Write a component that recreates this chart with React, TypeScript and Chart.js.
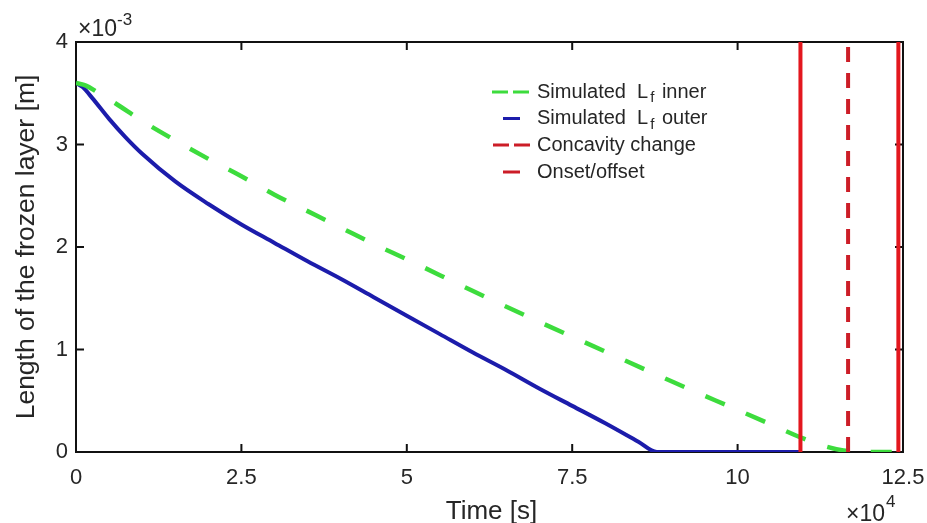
import React, { useEffect, useRef } from 'react';
import { Chart, registerables } from 'chart.js';

Chart.register(...registerables);

// Time in units of 10^4 s, length in units of 10^-3 m
const xTickValues = [0, 2.5, 5, 7.5, 10, 12.5];
const xTickLabels = ['0', '2.5', '5', '7.5', '10', '12.5'];
const yTickValues = [0, 1, 2, 3, 4];
const yTickLabels = ['0', '1', '2', '3', '4'];

const outerTime = [0, 0.1, 0.25, 0.5, 0.75, 1.0, 1.5, 2.0, 2.5, 3.0, 3.5, 4.0, 4.5, 5.0, 5.5, 6.0, 6.5, 7.0, 7.5, 8.0, 8.5, 8.78, 9.5, 10.5, 10.95];
const outerLength = [3.6, 3.56, 3.45, 3.25, 3.07, 2.91, 2.64, 2.42, 2.22, 2.04, 1.86, 1.69, 1.51, 1.33, 1.15, 0.97, 0.8, 0.62, 0.45, 0.28, 0.1, 0.0, 0.0, 0.0, 0.0];

const innerTime = [0, 0.15, 0.3, 0.6, 1.0, 1.5, 2.0, 2.5, 3.0, 3.5, 4.0, 4.5, 5.0, 6.0, 7.0, 8.0, 9.0, 10.0, 10.5, 11.0, 11.3, 11.6, 11.9, 12.45];
const innerLength = [3.6, 3.575, 3.52, 3.4, 3.23, 3.04, 2.86, 2.69, 2.51, 2.35, 2.19, 2.03, 1.88, 1.57, 1.27, 0.98, 0.69, 0.41, 0.27, 0.13, 0.06, 0.015, 0.0, 0.0];

const onsetTime = 10.95;
const concavityTime = 11.67;
const offsetTime = 12.43;
const markerSpan = [0, 4];

const legendTexts = ['Simulated  L_f inner', 'Simulated  L_f outer', 'Concavity change', 'Onset/offset'];
const xTitle = 'Time [s]';
const yTitle = 'Length of the frozen layer [m]';
const xExponent = '4';
const yExponent = '-3';

const GREEN = '#3ddc3d';
const BLUE = '#1c1cab';
const RED = '#e3171e';
const RED_DASH = '#cc1d27';
const TEXT = '#262626';
const FONT = '"Liberation Sans", Arial, Helvetica, sans-serif';

const toPoints = (xs: number[], ys: number[]) => xs.map((x, i) => ({ x, y: ys[i] }));

const boxPlugin = {
  id: 'boxPlugin',
  beforeDatasetsDraw(chart: any) {
    const { ctx, chartArea } = chart;
    const xs = chart.scales.x;
    const ys = chart.scales.y;
    ctx.save();
    ctx.strokeStyle = '#111';
    ctx.lineWidth = 2;
    ctx.strokeRect(chartArea.left, chartArea.top, chartArea.right - chartArea.left, chartArea.bottom - chartArea.top);
    const tl = 8;
    ctx.beginPath();
    xTickValues.forEach((v) => {
      const px = xs.getPixelForValue(v);
      ctx.moveTo(px, chartArea.bottom);
      ctx.lineTo(px, chartArea.bottom - tl);
      ctx.moveTo(px, chartArea.top);
      ctx.lineTo(px, chartArea.top + tl);
    });
    yTickValues.forEach((v) => {
      const py = ys.getPixelForValue(v);
      ctx.moveTo(chartArea.left, py);
      ctx.lineTo(chartArea.left + tl, py);
      ctx.moveTo(chartArea.right, py);
      ctx.lineTo(chartArea.right - tl, py);
    });
    ctx.stroke();
    ctx.restore();
  },
};

const legendStyles = [
  { color: GREEN, dash: [16, 5], x0: 492, x1: 530, width: 3 },
  { color: BLUE, dash: [], x0: 503, x1: 520, width: 3 },
  { color: RED_DASH, dash: [16, 5], x0: 493, x1: 530, width: 3 },
  { color: RED_DASH, dash: [], x0: 503, x1: 520, width: 3 },
];

const overlayPlugin = {
  id: 'overlayPlugin',
  afterDraw(chart: any) {
    const { ctx, chartArea } = chart;
    ctx.save();
    ctx.fillStyle = TEXT;

    // axis titles
    ctx.font = `26px ${FONT}`;
    ctx.textAlign = 'center';
    ctx.textBaseline = 'alphabetic';
    ctx.fillText(xTitle, (chartArea.left + chartArea.right) / 2 + 2, 519);
    ctx.save();
    ctx.translate(34, (chartArea.top + chartArea.bottom) / 2);
    ctx.rotate(-Math.PI / 2);
    ctx.font = `26.5px ${FONT}`;
    ctx.fillText(yTitle, 0, 0);
    ctx.restore();

    // exponent labels
    ctx.textAlign = 'left';
    ctx.font = `23px ${FONT}`;
    ctx.fillText('\u00d710', 78, 36);
    let w = ctx.measureText('\u00d710').width;
    ctx.font = `17px ${FONT}`;
    ctx.fillText(yExponent, 78 + w, 25);

    ctx.font = `23px ${FONT}`;
    ctx.fillText('\u00d710', 846, 521);
    w = ctx.measureText('\u00d710').width;
    ctx.font = `17px ${FONT}`;
    ctx.fillText(xExponent, 846 + w + 1, 507);

    // legend
    const rowY = [92, 118.5, 145, 172];
    legendTexts.forEach((t, i) => {
      const st = legendStyles[i];
      const y = rowY[i];
      ctx.save();
      ctx.strokeStyle = st.color;
      ctx.lineWidth = st.width;
      ctx.setLineDash(st.dash);
      ctx.beginPath();
      ctx.moveTo(st.x0, y);
      ctx.lineTo(st.x1, y);
      ctx.stroke();
      ctx.restore();

      ctx.fillStyle = TEXT;
      ctx.textBaseline = 'middle';
      ctx.textAlign = 'left';
      let x = 537;
      const parts = t.split('_');
      ctx.font = `20px ${FONT}`;
      ctx.fillText(parts[0], x, y);
      x += ctx.measureText(parts[0]).width;
      if (parts.length > 1) {
        const sub = parts[1].charAt(0);
        const rest = parts[1].slice(1);
        ctx.font = `15px ${FONT}`;
        ctx.fillText(sub, x + 2, y + 6);
        x += ctx.measureText(sub).width + 4;
        ctx.font = `20px ${FONT}`;
        ctx.fillText(rest, x, y);
      }
    });
    ctx.restore();
  },
};

export default function App() {
  const canvasRef = useRef<HTMLCanvasElement | null>(null);

  useEffect(() => {
    document.body.style.margin = '0';
    const canvas = canvasRef.current;
    if (!canvas) return;
    const chart = new Chart(canvas, {
      type: 'line',
      data: {
        datasets: [
          {
            label: 'Simulated Lf inner',
            data: toPoints(innerTime, innerLength),
            borderColor: GREEN,
            borderWidth: 4.5,
            borderDash: [21, 23],
            pointRadius: 0,
            cubicInterpolationMode: 'monotone',
            fill: false,
            order: 1,
          },
          {
            label: 'Simulated Lf outer',
            data: toPoints(outerTime, outerLength),
            borderColor: BLUE,
            borderWidth: 4,
            pointRadius: 0,
            cubicInterpolationMode: 'monotone',
            fill: false,
            order: 2,
          },
          {
            label: 'Onset',
            data: toPoints([onsetTime, onsetTime], markerSpan),
            borderColor: RED,
            borderWidth: 4,
            pointRadius: 0,
            fill: false,
            order: 0,
          },
          {
            label: 'Concavity change',
            data: toPoints([concavityTime, concavityTime], markerSpan),
            borderColor: RED_DASH,
            borderWidth: 4,
            borderDash: [15, 11],
            pointRadius: 0,
            fill: false,
            order: 0,
          },
          {
            label: 'Offset',
            data: toPoints([offsetTime, offsetTime], markerSpan),
            borderColor: RED,
            borderWidth: 4,
            pointRadius: 0,
            fill: false,
            order: 0,
          },
        ],
      },
      options: {
        responsive: true,
        maintainAspectRatio: false,
        animation: false,
        layout: { padding: { top: 42, right: 24, left: 0, bottom: 0 } },
        plugins: {
          legend: { display: false },
          tooltip: { enabled: false },
        },
        scales: {
          x: {
            type: 'linear',
            min: 0,
            max: 12.5,
            afterBuildTicks: (scale: any) => {
              scale.ticks = xTickValues.map((v) => ({ value: v }));
            },
            afterFit: (scale: any) => {
              scale.height = 71;
              scale.paddingRight = 0;
              scale.paddingLeft = 0;
            },
            ticks: {
              autoSkip: false,
              maxRotation: 0,
              padding: 13,
              color: TEXT,
              font: { family: FONT, size: 22 },
              callback: (v: any) => {
                const i = xTickValues.indexOf(Number(v));
                return i >= 0 ? xTickLabels[i] : '';
              },
            },
            grid: { display: true, drawOnChartArea: false, drawTicks: false, color: 'rgba(0,0,0,0)' },
            border: { display: false },
          },
          y: {
            type: 'linear',
            min: 0,
            max: 4,
            afterBuildTicks: (scale: any) => {
              scale.ticks = yTickValues.map((v) => ({ value: v }));
            },
            afterFit: (scale: any) => {
              scale.width = 76;
              scale.paddingTop = 0;
              scale.paddingBottom = 0;
            },
            ticks: {
              autoSkip: false,
              padding: 8,
              color: TEXT,
              font: { family: FONT, size: 22 },
              callback: (v: any) => {
                const i = yTickValues.indexOf(Number(v));
                return i >= 0 ? yTickLabels[i] : '';
              },
            },
            grid: { display: true, drawOnChartArea: false, drawTicks: false, color: 'rgba(0,0,0,0)' },
            border: { display: false },
          },
        },
      },
      plugins: [boxPlugin, overlayPlugin],
    } as any);
    return () => chart.destroy();
  }, []);

  return (
    <div style={{ position: 'relative', width: 927, height: 523, background: '#fff' }}>
      <canvas ref={canvasRef} />
    </div>
  );
}
